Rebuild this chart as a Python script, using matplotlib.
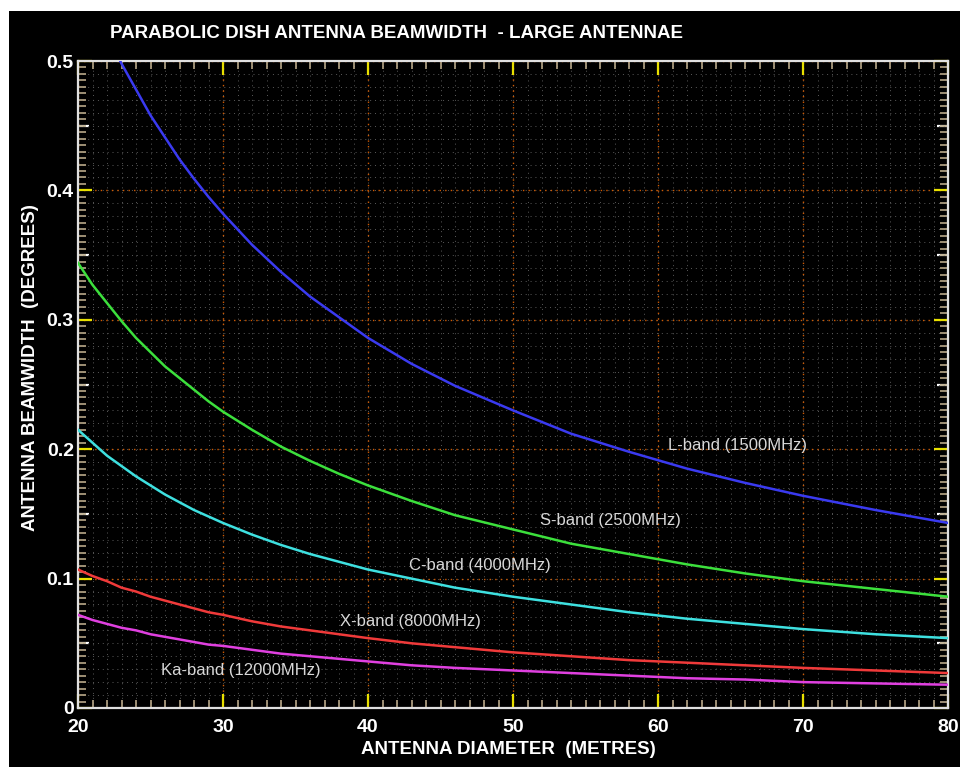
import matplotlib.pyplot as plt
import numpy as np
from matplotlib.patches import Rectangle
from matplotlib.ticker import MultipleLocator

# dish diameter (m) and beamwidth (deg) per band
diameter = [20, 21, 22, 23, 24, 25, 26, 27, 28, 29, 30, 32, 34, 36, 38, 40, 43, 46,
            50, 54, 58, 62, 66, 70, 75, 80]
l_band = [0.573, 0.546, 0.521, 0.498, 0.478, 0.458, 0.441, 0.424, 0.409, 0.395,
          0.382, 0.358, 0.337, 0.318, 0.302, 0.286, 0.266, 0.249, 0.230, 0.212,
          0.198, 0.185, 0.174, 0.164, 0.153, 0.143]
s_band = [0.344, 0.327, 0.313, 0.299, 0.286, 0.275, 0.264, 0.255, 0.246, 0.237,
          0.229, 0.215, 0.202, 0.191, 0.181, 0.172, 0.160, 0.149, 0.138, 0.127,
          0.119, 0.111, 0.104, 0.098, 0.092, 0.086]
c_band = [0.215, 0.205, 0.195, 0.187, 0.179, 0.172, 0.165, 0.159, 0.153, 0.148,
          0.143, 0.134, 0.126, 0.119, 0.113, 0.107, 0.100, 0.093, 0.086, 0.080,
          0.074, 0.069, 0.065, 0.061, 0.057, 0.054]
x_band = [0.107, 0.102, 0.098, 0.093, 0.090, 0.086, 0.083, 0.080, 0.077, 0.074,
          0.072, 0.067, 0.063, 0.060, 0.057, 0.054, 0.050, 0.047, 0.043, 0.040,
          0.037, 0.035, 0.033, 0.031, 0.029, 0.027]
ka_band = [0.072, 0.068, 0.065, 0.062, 0.060, 0.057, 0.055, 0.053, 0.051, 0.049,
           0.048, 0.045, 0.042, 0.040, 0.038, 0.036, 0.033, 0.031, 0.029, 0.027,
           0.025, 0.023, 0.022, 0.020, 0.019, 0.018]

series = [
    (l_band, "#3a3af0", "L-band (1500MHz)", 65.5, 0.2025),
    (s_band, "#3ce03c", "S-band (2500MHz)", 56.7, 0.145),
    (c_band, "#3ee0e0", "C-band (4000MHz)", 47.7, 0.110),
    (x_band, "#f03a3a", "X-band (8000MHz)", 42.9, 0.0665),
    (ka_band, "#e040e0", "Ka-band (12000MHz)", 31.2, 0.029),
]

plt.rcParams["font.family"] = ["Liberation Sans", "DejaVu Sans"]

fig = plt.figure(figsize=(9.6, 7.67), dpi=100, facecolor="white")
fig.patches.append(Rectangle((9 / 960, 0), 1 - 9 / 960, 1 - 11 / 767,
                             transform=fig.transFigure, facecolor="black",
                             edgecolor="none", zorder=-10))

ax = fig.add_axes([78 / 960, 1 - 708 / 767, 870 / 960, 647 / 767])
ax.set_facecolor("black")
ax.set_xlim(20, 80)
ax.set_ylim(0, 0.5)

# fine dotted grid
for x in np.arange(21, 80, 1):
    ax.axvline(x, color="#5a5a5a", linestyle=(0, (1, 4)), linewidth=0.7, zorder=1)
for y in np.arange(0.01, 0.5, 0.01):
    ax.axhline(y, color="#5a5a5a", linestyle=(0, (1, 4)), linewidth=0.7, zorder=1)

ax.xaxis.set_major_locator(MultipleLocator(10))
ax.xaxis.set_minor_locator(MultipleLocator(1))
ax.yaxis.set_major_locator(MultipleLocator(0.1))
ax.yaxis.set_minor_locator(MultipleLocator(0.005))
ax.grid(which="major", color="#d05a00", linestyle=(0, (1, 3)), linewidth=1.0, zorder=1)

for d, color, label, lx, ly in series:
    ax.plot(diameter, d, color=color, linewidth=1.8, zorder=3)
    ax.text(lx, ly, label, color="#d8d8d8", fontsize=12, ha="center", va="center",
            zorder=4)

ax.tick_params(which="major", direction="in", length=10, width=1.6, color="#e8e000",
               top=True, right=True, labelcolor="white")
ax.tick_params(which="minor", direction="in", length=6, width=1.2, color="#b8a888",
               top=True, right=True)
ax.tick_params(axis="x", which="major", pad=8)
ax.tick_params(axis="y", which="major", pad=3)
ax.set_xticks([20, 30, 40, 50, 60, 70, 80])
ax.set_xticklabels(["20", "30", "40", "50", "60", "70", "80"])
ax.set_yticks([0, 0.1, 0.2, 0.3, 0.4, 0.5])
ax.set_yticklabels(["0", "0.1", "0.2", "0.3", "0.4", "0.5"])
for lab in ax.get_xticklabels() + ax.get_yticklabels():
    lab.set_fontweight("bold")
    lab.set_fontsize(14)

# white half-step ticks on both vertical edges
mid = [0.05, 0.15, 0.25, 0.35, 0.45]
for side in ("left", "right"):
    sec = ax.secondary_yaxis(side)
    sec.set_yticks(mid)
    sec.tick_params(direction="in", length=8, width=1.6, color="white",
                    labelleft=False, labelright=False)
    sec.spines[side].set_visible(False)

for sp in ax.spines.values():
    sp.set_color("#e0e0e0")
    sp.set_linewidth(1.6)

fig.text(110 / 960, 1 - 33 / 767, "PARABOLIC DISH ANTENNA BEAMWIDTH  - LARGE ANTENNAE",
         color="white", fontsize=13.5, fontweight="bold",
         ha="left", va="center")
fig.text(508 / 960, 1 - 750 / 767, "ANTENNA DIAMETER  (METRES)", color="white",
         fontsize=13.5, fontweight="bold", ha="center", va="center")
fig.text(31 / 960, 1 - 368 / 767, "ANTENNA BEAMWIDTH  (DEGREES)", color="white",
         fontsize=13.5, fontweight="bold", ha="center", va="center",
         rotation=90)

fig.savefig("out.png", dpi=100, facecolor="white")
